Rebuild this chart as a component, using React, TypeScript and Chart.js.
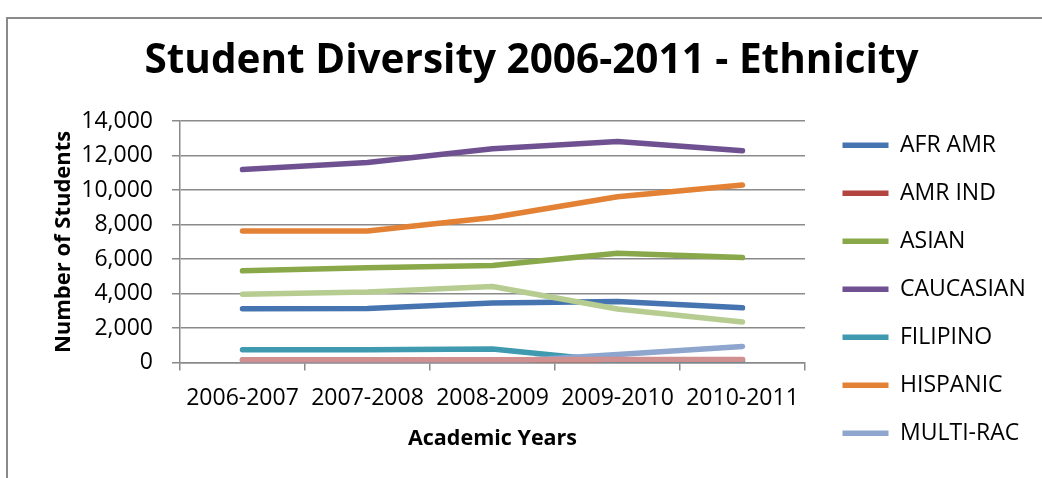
import React, { useEffect, useRef } from 'react';
import { Chart, registerables } from 'chart.js';

Chart.register(...registerables);

// ---------- data ----------
const years = ['2006-2007', '2007-2008', '2008-2009', '2009-2010', '2010-2011'];
const seriesNames = ['AFR AMR', 'AMR IND', 'ASIAN', 'CAUCASIAN', 'FILIPINO', 'HISPANIC', 'MULTI-RAC', 'PAC ISL', 'UNKNOWN'];
const legendShown = 7;
const afrAmr = [3120, 3140, 3450, 3540, 3180];
const amrInd = [150, 150, 160, 170, 160];
const asian = [5320, 5500, 5630, 6340, 6090];
const caucasian = [11200, 11600, 12400, 12820, 12280];
const filipino = [750, 750, 790, 60, 50];
const hispanic = [7630, 7630, 8420, 9620, 10300];
const multiRac = [20, 20, 20, 470, 940];
const pacIsl = [170, 170, 170, 175, 185];
const unknown = [3970, 4090, 4410, 3110, 2350];
const seriesValues = [afrAmr, amrInd, asian, caucasian, filipino, hispanic, multiRac, pacIsl, unknown];
const seriesColors = ['#4674B0', '#B4443F', '#88A84A', '#6F5192', '#3F9AB0', '#E38134', '#8EA5CD', '#D09090', '#B6CC91'];
const yMin = 0;
const yMax = 14000;
const yStep = 2000;
const yTickLabels = ['0', '2,000', '4,000', '6,000', '8,000', '10,000', '12,000', '14,000'];

const titleText = 'Student Diversity 2006-2011 - Ethnicity';
const xTitle = 'Academic Years';
const yTitle = 'Number of Students';

// ---------- layout ----------
const FONT = '"Open Sans", sans-serif';
const W = 1049;
const H = 470;
const PLOT_LEFT = 173;
const PLOT_RIGHT = 798;
const LEG_PAD = 25;
const LEG_LINE = 46;
const LEG_FONT = 23;
const Y_TICK_FONT = 23;
const Y_TICK_PAD = 19;
const Y_TITLE_FONT = 22;
const Y_TITLE_TOP = 44;
const TICK_LEN = 8;
const GRID = '#8a8a8a';

export default function App() {
  const ref = useRef<HTMLCanvasElement | null>(null);

  useEffect(() => {
    const canvas = ref.current;
    if (!canvas) return;
    const m = document.createElement('canvas').getContext('2d')!;
    m.font = `${LEG_FONT}px ${FONT}`;
    const maxLegText = Math.max(...seriesNames.slice(0, legendShown).map((n) => m.measureText(n).width));
    const legendWidth = LEG_PAD + LEG_LINE + LEG_FONT / 2 + maxLegText + 10;
    const padRight = Math.max(0, W - PLOT_RIGHT - legendWidth);
    m.font = `${Y_TICK_FONT}px ${FONT}`;
    const tickW = Math.max(...yTickLabels.map((t) => m.measureText(t).width));
    const yTitleLH = Y_TITLE_FONT * 1.2;
    const yTitleBottom = PLOT_LEFT - TICK_LEN - 2 * Y_TICK_PAD - tickW - yTitleLH - Y_TITLE_TOP;

    const layoutTweak = {
      id: 'layoutTweak',
      afterLayout(chart: any) {
        const lg = chart.legend;
        const ca = chart.chartArea;
        if (lg) {
          const w = lg.width;
          lg.left = ca.right + 12.5;
          lg.right = lg.left + w;
          lg.top = ca.top - 12.4;
          lg.bottom = lg.top + 2000;
        }
        const tb = chart.titleBlock;
        if (tb) {
          tb.left = 0;
          tb.right = W;
          tb.width = W;
        }
      },
    };

    Chart.defaults.font.family = FONT;
    const chart = new Chart(canvas, {
      type: 'line',
      data: {
        labels: years,
        datasets: seriesNames.map((name, i) => ({
          label: name,
          data: seriesValues[i],
          borderColor: seriesColors[i],
          backgroundColor: seriesColors[i],
          borderWidth: 5.5,
          borderCapStyle: 'round' as const,
          borderJoinStyle: 'round' as const,
          pointRadius: 0,
          pointHoverRadius: 0,
          tension: 0,
          fill: false,
          order: -i,
        })),
      },
      options: {
        responsive: false,
        maintainAspectRatio: false,
        devicePixelRatio: 1,
        animation: false,
        events: [],
        layout: { padding: { left: 0, right: padRight, top: 0, bottom: 0 } },
        plugins: {
          tooltip: { enabled: false },
          title: {
            display: true,
            text: titleText,
            color: '#000',
            font: { family: FONT, size: 40.5, weight: 'bold' },
            padding: { top: 29, bottom: 35.6 },
          },
          legend: {
            display: true,
            position: 'right',
            align: 'start',
            labels: {
              usePointStyle: true,
              pointStyle: 'line',
              pointStyleWidth: LEG_LINE,
              color: '#000',
              padding: LEG_PAD,
              font: { family: FONT, size: LEG_FONT },
              filter: (item: any) => item.datasetIndex < legendShown,
              sort: (a: any, b: any) => a.datasetIndex - b.datasetIndex,
            },
          },
        },
        scales: {
          x: {
            type: 'category',
            offset: true,
            grid: {
              display: true,
              drawOnChartArea: false,
              drawTicks: true,
              tickLength: TICK_LEN,
              offset: true,
              color: GRID,
              lineWidth: 1.5,
            },
            border: { display: true, color: GRID, width: 1.5 },
            ticks: {
              color: '#000',
              font: { family: FONT, size: 23 },
              padding: 14,
              maxRotation: 0,
              minRotation: 0,
              autoSkip: false,
            },
            title: {
              display: true,
              text: xTitle,
              color: '#000',
              font: { family: FONT, size: 21.5, weight: 'bold' },
              padding: { top: 0, bottom: 26 },
            },
          },
          y: {
            min: yMin,
            max: yMax,
            grid: {
              display: true,
              drawTicks: true,
              tickLength: TICK_LEN,
              color: GRID,
              lineWidth: 1.5,
            },
            border: { display: true, color: GRID, width: 1.5 },
            ticks: {
              stepSize: yStep,
              color: '#000',
              font: { family: FONT, size: Y_TICK_FONT },
              padding: Y_TICK_PAD,
              callback: (v: any) => Number(v).toLocaleString('en-US'),
            },
            title: {
              display: true,
              text: yTitle,
              color: '#000',
              font: { family: FONT, size: Y_TITLE_FONT, weight: 'bold' },
              padding: { top: Y_TITLE_TOP, bottom: yTitleBottom },
            },
          },
        },
      } as any,
      plugins: [layoutTweak],
    });
    return () => chart.destroy();
  }, []);

  return (
    <div style={{ position: 'fixed', left: 0, top: 0, width: 1042, height: 478, overflow: 'hidden', background: '#fff' }}>
      <div
        style={{
          position: 'absolute',
          left: 6,
          top: 17,
          width: 2000,
          height: 2000,
          borderLeft: '2px solid #8a8a8a',
          borderTop: '2px solid #8a8a8a',
        }}
      />
      <canvas ref={ref} width={W} height={H} style={{ position: 'absolute', left: 7, top: 8, width: W, height: H }} />
    </div>
  );
}
